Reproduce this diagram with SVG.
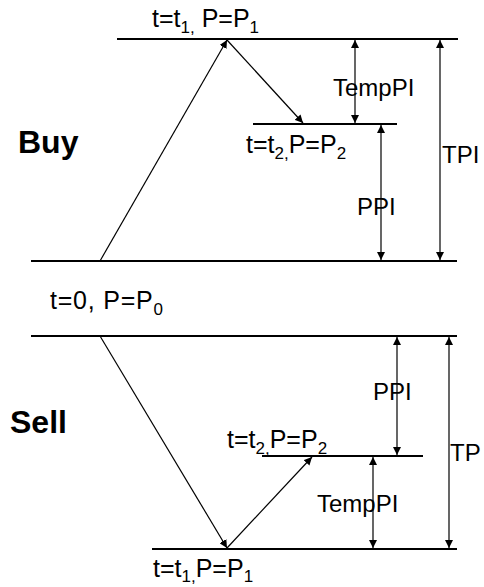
<svg xmlns="http://www.w3.org/2000/svg" width="484" height="587" viewBox="0 0 484 587">
<defs>
<marker id="ah" viewBox="0 0 10 10" refX="10" refY="5" markerWidth="8" markerHeight="8" markerUnits="userSpaceOnUse" orient="auto-start-reverse">
<path d="M0,0 L10,5 L0,10 z" fill="#000"/>
</marker>
<style>
.lvl{stroke:#000;stroke-width:2;fill:none}
.arr{stroke:#000;stroke-width:1.2;fill:none;marker-end:url(#ah)}
.dbl{stroke:#000;stroke-width:1.2;fill:none;marker-start:url(#ah);marker-end:url(#ah)}
.t{font-family:"Liberation Sans",Arial,sans-serif;font-size:24px;fill:#000}
.l{font-size:25px}
.s{font-size:17px}
.b{font-family:"Liberation Sans",Arial,sans-serif;font-size:32px;font-weight:bold;fill:#000}
</style>
</defs>
<rect width="484" height="587" fill="#fff"/>
<g id="levels">
<line class="lvl" x1="117" y1="39" x2="458" y2="39"/>
<line class="lvl" x1="253" y1="124" x2="397" y2="124"/>
<line class="lvl" x1="31" y1="261" x2="457" y2="261"/>
<line class="lvl" x1="31" y1="336" x2="457" y2="336"/>
<line class="lvl" x1="262" y1="456" x2="423" y2="456"/>
<line class="lvl" x1="152" y1="549" x2="457" y2="549"/>
</g>
<g id="connectors">
<line class="arr" x1="100" y1="261" x2="227" y2="40"/>
<line class="arr" x1="227" y1="40" x2="303" y2="123"/>
<line class="dbl" x1="355" y1="40" x2="355" y2="123"/>
<line class="dbl" x1="381" y1="125" x2="381" y2="260"/>
<line class="dbl" x1="440" y1="40" x2="440" y2="260"/>
<line class="arr" x1="100" y1="336" x2="227" y2="548"/>
<line class="arr" x1="227" y1="548" x2="312" y2="457"/>
<line class="dbl" x1="397" y1="337" x2="397" y2="455"/>
<line class="dbl" x1="449" y1="337" x2="449" y2="548"/>
<line class="dbl" x1="373" y1="457" x2="373" y2="548"/>
</g>
<g id="buy">
<text class="b" x="18" y="153">Buy</text>
<text class="t l" x="152" y="27">t=t<tspan class="s" dy="6">1,</tspan><tspan dy="-6"> P=P</tspan><tspan class="s" dy="6">1</tspan></text>
<text class="t l" x="246" y="153">t=t<tspan class="s" dy="6">2,</tspan><tspan dy="-6">P=P</tspan><tspan class="s" dy="6">2</tspan></text>
<text class="t" x="333" y="96">TempPI</text>
<text class="t" x="357" y="215">PPI</text>
<text class="t" x="442" y="163">TPI</text>
<text class="t l" x="50" y="309" textLength="113">t=0, P=P<tspan class="s" dy="6">0</tspan></text>
</g>
<g id="sell">
<text class="b" x="10" y="433">Sell</text>
<text class="t l" x="227" y="448">t=t<tspan class="s" dy="6">2,</tspan><tspan dy="-6">P=P</tspan><tspan class="s" dy="6">2</tspan></text>
<text class="t" x="373" y="400">PPI</text>
<text class="t" x="450" y="461">TP</text>
<text class="t" x="317" y="512">TempPI</text>
<text class="t l" x="153" y="577">t=t<tspan class="s" dy="5">1,</tspan><tspan dy="-5">P=P</tspan><tspan class="s" dy="5">1</tspan></text>
</g>
</svg>
